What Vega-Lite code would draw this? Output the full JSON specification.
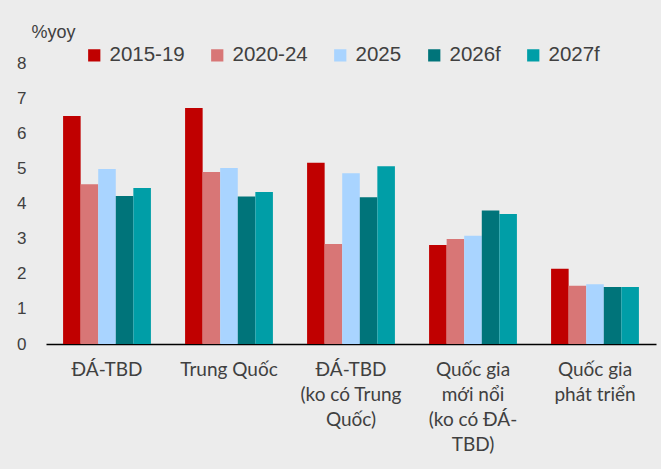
{
  "$schema": "https://vega.github.io/schema/vega-lite/v6.json",
  "autosize": "none",
  "width": 610,
  "height": 281,
  "padding": {"left": 46, "top": 63, "right": 5, "bottom": 125},
  "background": "#ececec",
  "data": {
    "values": [
      {"region": "ĐÁ-TBD", "period": "2015-19", "value": 6.49},
      {"region": "ĐÁ-TBD", "period": "2020-24", "value": 4.55},
      {"region": "ĐÁ-TBD", "period": "2025", "value": 4.98},
      {"region": "ĐÁ-TBD", "period": "2026f", "value": 4.21},
      {"region": "ĐÁ-TBD", "period": "2027f", "value": 4.44},
      {"region": "Trung Quốc", "period": "2015-19", "value": 6.72},
      {"region": "Trung Quốc", "period": "2020-24", "value": 4.9},
      {"region": "Trung Quốc", "period": "2025", "value": 5.01},
      {"region": "Trung Quốc", "period": "2026f", "value": 4.2},
      {"region": "Trung Quốc", "period": "2027f", "value": 4.33},
      {"region": "ĐÁ-TBD (ko có Trung Quốc)", "period": "2015-19", "value": 5.16},
      {"region": "ĐÁ-TBD (ko có Trung Quốc)", "period": "2020-24", "value": 2.85},
      {"region": "ĐÁ-TBD (ko có Trung Quốc)", "period": "2025", "value": 4.86},
      {"region": "ĐÁ-TBD (ko có Trung Quốc)", "period": "2026f", "value": 4.18},
      {"region": "ĐÁ-TBD (ko có Trung Quốc)", "period": "2027f", "value": 5.06},
      {"region": "Quốc gia mới nổi (ko có ĐÁ-TBD)", "period": "2015-19", "value": 2.82},
      {"region": "Quốc gia mới nổi (ko có ĐÁ-TBD)", "period": "2020-24", "value": 2.99},
      {"region": "Quốc gia mới nổi (ko có ĐÁ-TBD)", "period": "2025", "value": 3.08},
      {"region": "Quốc gia mới nổi (ko có ĐÁ-TBD)", "period": "2026f", "value": 3.8},
      {"region": "Quốc gia mới nổi (ko có ĐÁ-TBD)", "period": "2027f", "value": 3.7},
      {"region": "Quốc gia phát triển", "period": "2015-19", "value": 2.14},
      {"region": "Quốc gia phát triển", "period": "2020-24", "value": 1.66},
      {"region": "Quốc gia phát triển", "period": "2025", "value": 1.7},
      {"region": "Quốc gia phát triển", "period": "2026f", "value": 1.62},
      {"region": "Quốc gia phát triển", "period": "2027f", "value": 1.62}
    ]
  },
  "mark": {"type": "bar"},
  "encoding": {
    "x": {
      "field": "region",
      "type": "nominal",
      "sort": null,
      "scale": {"paddingInner": 0.28, "paddingOuter": 0.14},
      "axis": {
        "title": null,
        "domainColor": "#000000",
        "domainWidth": 1.5,
        "ticks": false,
        "labelAngle": 0,
        "labelPadding": 16,
        "labelFont": "Lato",
        "labelFontSize": 19,
        "labelColor": "#404040",
        "labelLineHeight": 25,
        "labelBaseline": "top",
        "labelExpr": "datum.label == 'ĐÁ-TBD (ko có Trung Quốc)' ? ['ĐÁ-TBD', '(ko có Trung', 'Quốc)'] : datum.label == 'Quốc gia mới nổi (ko có ĐÁ-TBD)' ? ['Quốc gia', 'mới nổi', '(ko có ĐÁ-', 'TBD)'] : datum.label == 'Quốc gia phát triển' ? ['Quốc gia', 'phát triển'] : datum.label"
      }
    },
    "xOffset": {
      "field": "period",
      "type": "nominal",
      "sort": ["2015-19", "2020-24", "2025", "2026f", "2027f"],
      "scale": {"paddingInner": 0, "paddingOuter": 0}
    },
    "y": {
      "field": "value",
      "type": "quantitative",
      "scale": {"domain": [0, 8], "nice": false},
      "axis": {
        "title": "%yoy",
        "titleAngle": 0,
        "titleAlign": "left",
        "titleBaseline": "alphabetic",
        "titleX": -15,
        "titleY": -26,
        "titleFont": "Liberation Sans",
        "titleFontSize": 18,
        "titleFontWeight": "normal",
        "titleColor": "#404040",
        "values": [0, 1, 2, 3, 4, 5, 6, 7, 8],
        "domain": false,
        "ticks": false,
        "grid": false,
        "labelPadding": 20,
        "labelFont": "Liberation Sans",
        "labelFontSize": 17,
        "labelColor": "#404040"
      }
    },
    "color": {
      "field": "period",
      "type": "nominal",
      "sort": ["2015-19", "2020-24", "2025", "2026f", "2027f"],
      "scale": {
        "domain": ["2015-19", "2020-24", "2025", "2026f", "2027f"],
        "range": ["#c00000", "#d87676", "#a9d4ff", "#00747a", "#009ea7"]
      },
      "legend": {
        "title": null,
        "orient": "none",
        "direction": "horizontal",
        "legendX": 38,
        "legendY": -18,
        "symbolType": "square",
        "symbolSize": 150,
        "symbolStrokeWidth": 0,
        "labelFont": "Liberation Sans",
        "labelFontSize": 20.5,
        "labelColor": "#404040",
        "labelOffset": 5,
        "columnPadding": 22
      }
    }
  },
  "config": {
    "view": {"stroke": null},
    "font": "Liberation Sans"
  }
}
